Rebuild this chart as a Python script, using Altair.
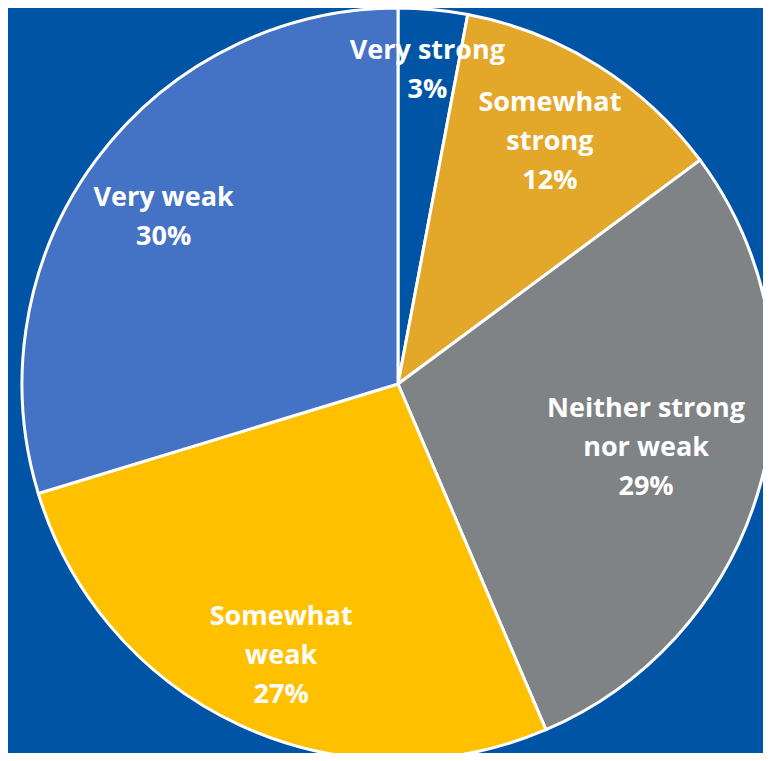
import altair as alt
import pandas as pd

categories = ["Very strong", "Somewhat strong", "Neither strong nor weak", "Somewhat weak", "Very weak"]
display_labels = ["Very strong", "Somewhat\nstrong", "Neither strong\nnor weak", "Somewhat\nweak", "Very weak"]
percent = [3, 12, 29, 27, 30]
colors = ["#0054A5", "#E3A82A", "#808385", "#FFC000", "#4472C4"]

df = pd.DataFrame({
    "idx": list(range(len(categories))),
    "category": categories,
    "display": display_labels,
    "pct": percent,
})

CX, CY, R = 390, 376, 376
BG = "#0054A5"
LH = 39

theta = alt.Theta("pct:Q", stack=True)
order = alt.Order("idx:Q", sort="ascending")

pie = alt.Chart(df).mark_arc(stroke="white", strokeWidth=3).encode(
    theta=theta,
    color=alt.Color("category:N", scale=alt.Scale(domain=categories, range=colors), legend=None),
    order=order,
    x=alt.value(CX),
    y=alt.value(CY),
    radius=alt.value(R),
)

# label placement (radius from centre, small pixel nudges)
label_radii = [316, 286, 257, 296, 288]
label_dx = [0, 0, 0, 8, -3]
label_dy = [1, 0, -3, 4, 5]
layers = [pie]
for i, cat in enumerate(categories):
    n_lines = display_labels[i].count("\n") + 2
    t = alt.Chart(df).transform_calculate(
        lbl=f"datum.category == '{cat}' ? datum.display + '\\n' + datum.pct + '%' : ''"
    ).mark_text(
        font="Open Sans", fontWeight="bold", fontSize=27, color="white",
        lineBreak="\n", lineHeight=LH, align="center", baseline="middle",
        dx=label_dx[i],
        dy=-(n_lines - 1) * LH / 2 + label_dy[i],
    ).encode(
        theta=theta,
        order=order,
        text="lbl:N",
        x=alt.value(CX),
        y=alt.value(CY),
        radius=alt.value(label_radii[i]),
    )
    layers.append(t)

chart = alt.layer(*layers).properties(
    width=755, height=745, background=BG, padding=0,
    autosize=alt.AutoSizeParams(type="none"),
).configure_view(stroke=None)

chart.save("out.html", embed_options={"renderer": "svg", "actions": False})
